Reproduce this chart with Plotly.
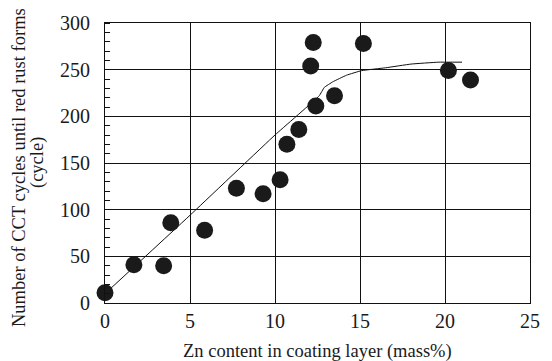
import plotly.graph_objects as go

zn = [0, 1.7, 3.45, 3.87, 5.86, 7.73, 9.3, 10.3, 10.7, 11.4, 12.4, 12.1, 12.25, 13.5, 15.2, 20.2, 21.5]
cycles = [11, 41, 40, 86, 78, 123, 117, 132, 170, 186, 211, 254, 279, 222, 278, 249, 239]

fit_x = [0, 5, 10, 12.6, 12.9, 13.4, 14.2, 15.1, 16.5, 18.0, 19.6, 21.0]
fit_y = [10, 94, 180, 222, 231, 237, 244, 249, 252, 256, 258, 258]

x_ticks = [0, 5, 10, 15, 20, 25]
y_ticks = [0, 50, 100, 150, 200, 250, 300]

x_title = "Zn content in coating layer (mass%)"
y_title_1 = "Number of CCT cycles until red rust forms"
y_title_2 = "(cycle)"

font = "Times New Roman, Liberation Serif, serif"

fig = go.Figure()
fig.add_trace(go.Scatter(x=fit_x, y=fit_y, mode="lines",
                         line=dict(color="#111", width=1, shape="spline", smoothing=0.3),
                         showlegend=False))
fig.add_trace(go.Scatter(x=zn, y=cycles, mode="markers",
                         marker=dict(color="#1a1a1a", size=17, line=dict(width=0)),
                         showlegend=False, cliponaxis=False))

fig.update_layout(
    width=552, height=361,
    margin=dict(l=105, r=20, t=15, b=58),
    plot_bgcolor="white", paper_bgcolor="white",
    font=dict(family=font, color="#1a1a1a"),
    xaxis=dict(range=[0, 25], tickvals=x_ticks, showgrid=True, gridcolor="#111", gridwidth=1,
               showline=True, linecolor="#111", linewidth=1, mirror=True, zeroline=False,
               ticks="", ticklen=0, tickfont=dict(size=20, family=font)),
    yaxis=dict(range=[0, 300], tickvals=y_ticks, showgrid=True, gridcolor="#111", gridwidth=1,
               showline=True, linecolor="#111", linewidth=1, mirror=True, zeroline=False,
               ticks="", ticklen=0, ticklabelstandoff=10, tickfont=dict(size=20, family=font),
               minor=dict(dtick=10, ticks="inside", ticklen=5, tickcolor="#111", showgrid=False)),
    annotations=[
        dict(text=x_title, xref="paper", yref="paper", x=0.5, y=0, yshift=-48,
             xanchor="center", yanchor="middle", showarrow=False,
             font=dict(size=18.5, family=font)),
        dict(text=y_title_1, xref="paper", yref="paper", x=0, xshift=-86, y=0.5, yshift=-5,
             xanchor="center", yanchor="middle", showarrow=False, textangle=-90,
             font=dict(size=18.5, family=font)),
        dict(text=y_title_2, xref="paper", yref="paper", x=0, xshift=-68, y=0.5,
             xanchor="center", yanchor="middle", showarrow=False, textangle=-90,
             font=dict(size=18.5, family=font)),
    ],
)

fig.write_html("out.html")
